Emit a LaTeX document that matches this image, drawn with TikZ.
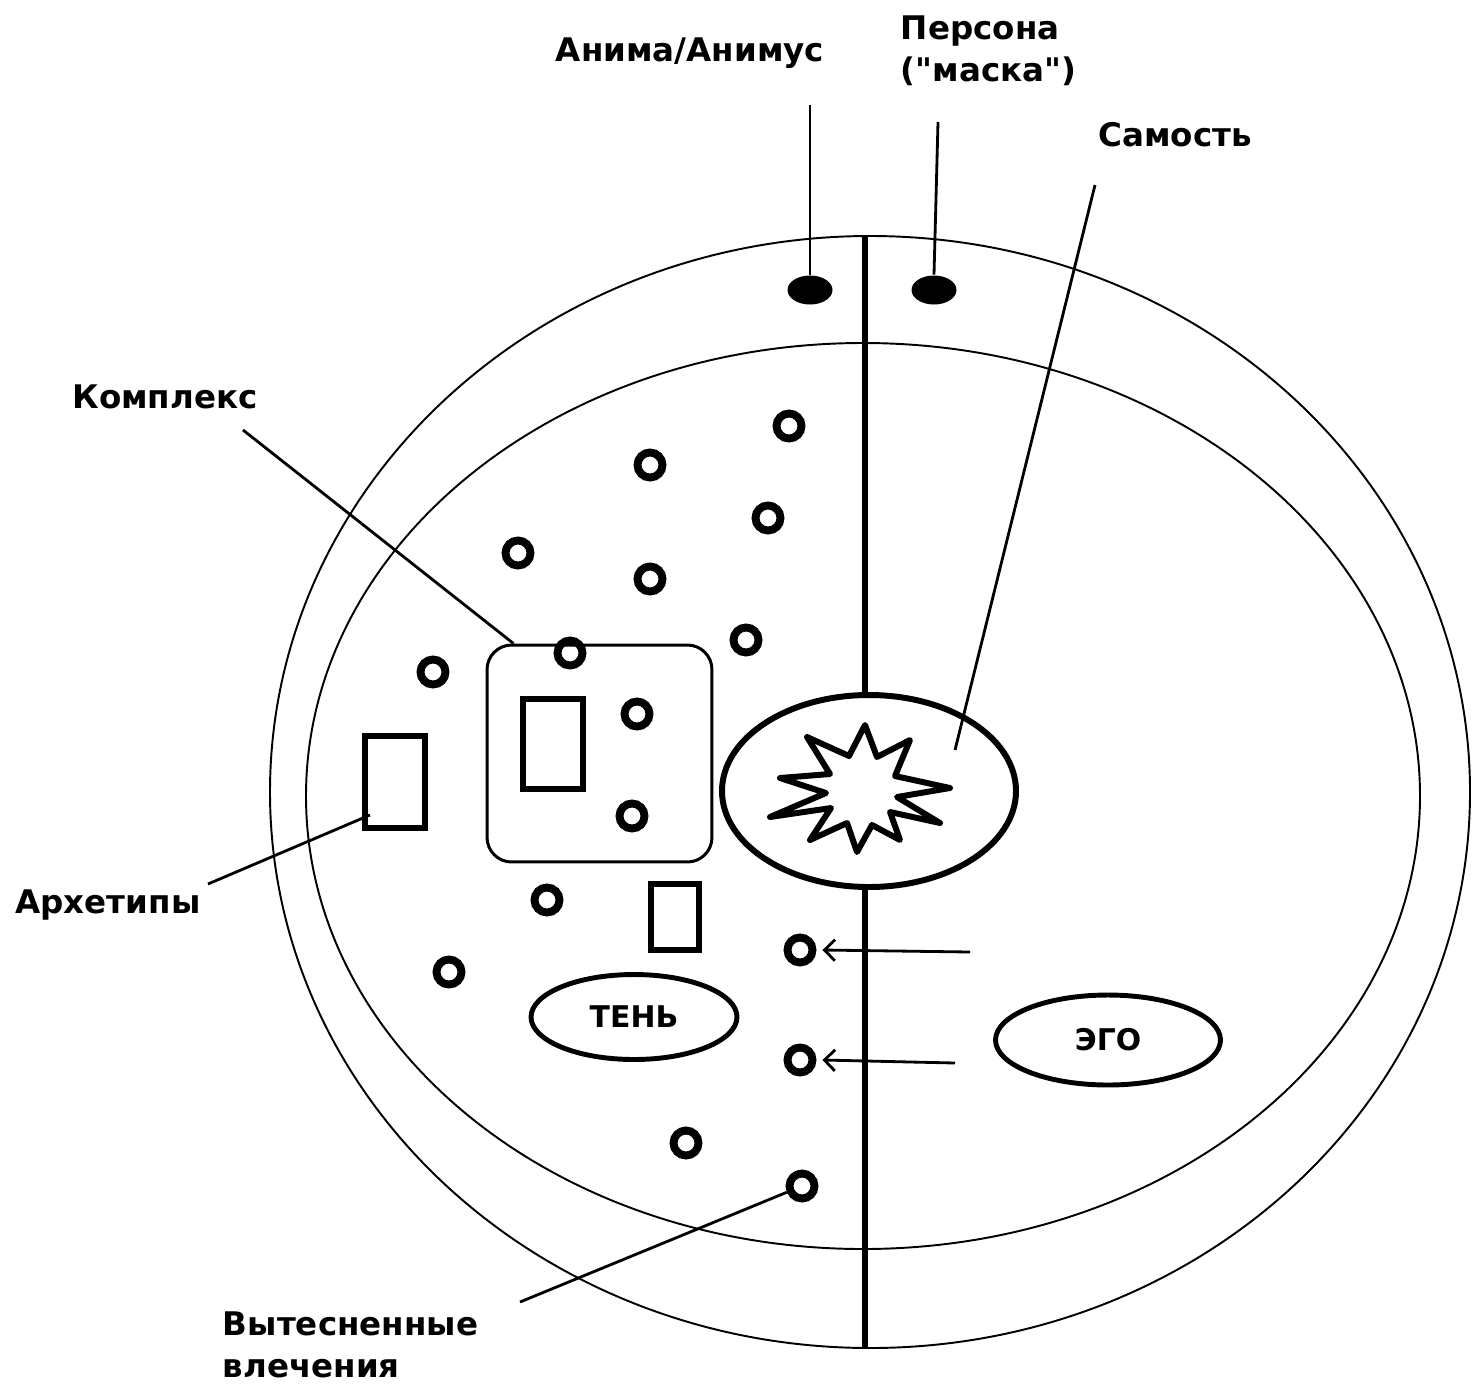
\documentclass[tikz,border=0pt]{standalone}
\usepackage{fontspec}
\setmainfont{DejaVu Sans}[Ligatures=TeXOff]
\usetikzlibrary{positioning,calc,shapes.geometric,arrows.meta}

\begin{document}
\begin{tikzpicture}[x=0.02cm,y=-0.02cm,line width=1.1pt,
  lbl/.style={font=\bfseries\fontsize{18.5}{24}\selectfont,inner sep=0pt,align=left},
  ring/.style={circle,draw,line width=4.5pt,inner sep=0pt,minimum size=0.5cm},
  blob/.style={ellipse,fill,inner sep=0pt,minimum width=0.9cm,minimum height=0.58cm},
  box/.style={draw,line width=3.4pt,inner sep=0pt},
  pin/.style={line width=1.6pt},
  oval/.style={ellipse,draw,line width=2.8pt,inner sep=0pt,font=\bfseries\fontsize{17}{20}\selectfont}]
\useasboundingbox (0,0) rectangle (1480,1383);
%\draw[help lines] (0,0) grid (1480,1383);
\draw (870,792) ellipse (600 and 556);
\draw (863,796) ellipse (557 and 453);
\draw[line width=3.4pt] (865,236)--(865,1348);
\draw[line width=3.4pt,fill=white] (869,791) ellipse (147 and 96);
% star of the self
\draw[line width=3.4pt,line join=round] (865,725)--(877,757)--(910,740)--(895,776)--(950,788)--(897,797)--(940,823)--(890,812)--(900,840)--(872,825)--(857,852)--(847,823)--(810,840)--(831,808)--(770,817)--(826,793)--(780,778)--(830,774)--(807,737)--(849,756)--cycle;
% complex and archetypes
\node[draw,line width=1.7pt,rounded corners=14pt,minimum width=4.5cm,minimum height=4.34cm] (cplx) at (599.5,753.5) {};
\node[box,minimum width=1.2cm,minimum height=1.8cm] (arcA) at (553,744) {};
\node[box,minimum width=1.2cm,minimum height=1.84cm] (arcB) at (395,782) {};
\node[box,minimum width=0.96cm,minimum height=1.32cm] (arcC) at (675,917) {};
\foreach \x/\y/\n in {789/426/r1,650/465/r2,768/518/r3,518/553/r4,650/579/r5,746/640/r6,433/672/r7,570/653/r8,637/714/r9,632/816/r10,547/900/r11,449/972/r12,800/950/r13,800/1060/r14,686/1143/r15,802/1186/r16}
\node[ring] (\n) at (\x,\y) {};
\node[oval,minimum width=4.12cm,minimum height=1.7cm] (shadow) at (634,1017) {ТЕНЬ};
\node[oval,minimum width=4.5cm,minimum height=1.8cm] (ego) at (1108,1040) {ЭГО};
\node[blob] (anb) at (810,290) {};
\node[blob] (psb) at (934,290) {};
% labels
\node[lbl] (anima) at (690,53) {Анима/Анимус};
\node[lbl,anchor=west] (persona) at (900,51) {Персона\\("маска")};
\node[lbl] (self) at (1175,135) {Самость};
\node[lbl] (complex) at (165,397) {Комплекс};
\node[lbl] (arch) at (108,905) {Архетипы};
\node[lbl,anchor=west] (repr) at (222,1345) {Вытесненные\\влечения};
\coordinate (a1) at (810,105);
\coordinate (p1) at (938,122);
\coordinate (s1) at (1095,185);
\coordinate (s2) at (955,750);
\coordinate (k1) at (243,430);
\coordinate (k2) at ($(cplx.north west)+(28,0)$);
\coordinate (h1) at (208,884);
\coordinate (h2) at (370,815);
\coordinate (v1) at (520,1302);
\coordinate (e1) at (970,952);
\coordinate (e2) at (955,1063);
\draw[pin] (a1)--(anb.north);
\draw[pin] (p1)--(psb.north);
\draw[pin] (s1)--(s2);
\draw[pin] (k1)--(k2);
\draw[pin] (h1)--(h2);
\draw[pin] (v1)--(r16);
\draw[pin,-{Straight Barb[length=6pt,width=12pt]}] (e1)--($(r13.east)+(6,0)$);
\draw[pin,-{Straight Barb[length=6pt,width=12pt]}] (e2)--($(r14.east)+(6,0)$);
\end{tikzpicture}
\end{document}
